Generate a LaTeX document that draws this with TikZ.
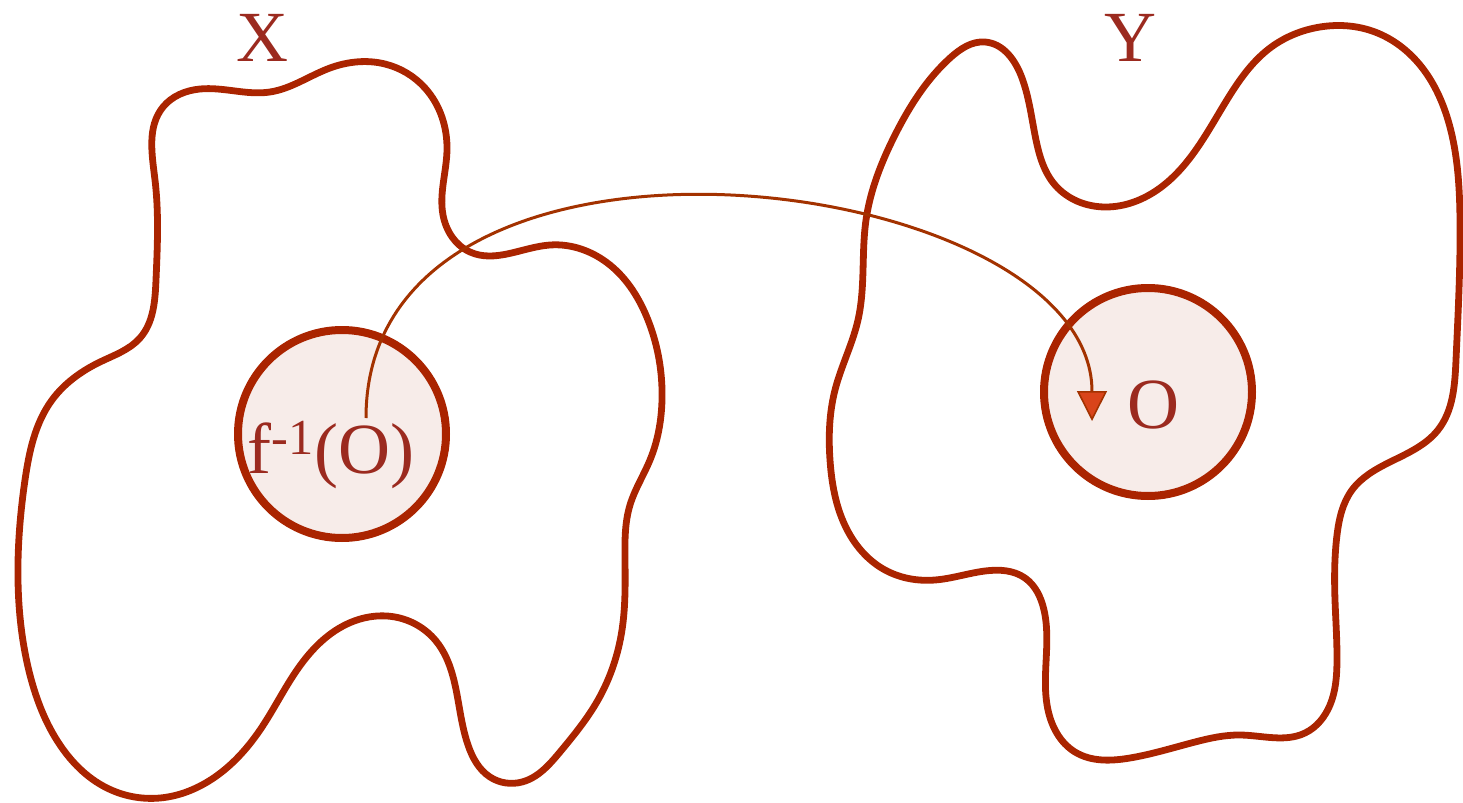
\documentclass[tikz,border=0pt]{standalone}
\usepackage{fontspec}
\setmainfont{Liberation Serif}
\usetikzlibrary{arrows.meta,hobby}
\definecolor{blobred}{HTML}{AA2400}
\definecolor{txtred}{HTML}{9B2A1F}
\definecolor{discfill}{HTML}{F7ECE9}
\definecolor{arrline}{HTML}{A33200}
\definecolor{arrfill}{HTML}{D9441A}
\begin{document}
\begin{tikzpicture}[x=0.5pt,y=-0.5pt,
  blob/.style={draw=blobred, line width=3.4pt, line join=round},
  disc/.style={circle, draw=blobred, fill=discfill, line width=4pt, minimum size=104pt, inner sep=0pt},
  lbl/.style={text=txtred, font=\fontsize{36}{42}\selectfont, inner sep=0pt},
  conn/.style={draw=arrline, line width=1.5pt, -{Triangle[width=15pt,length=15pt,fill=arrfill,line width=0.8pt]}}]
\useasboundingbox (0,0) rectangle (1463,803);
% blob X
\draw[blob] plot[closed hobby] coordinates {
 (155,180) (163,107) (200,89) (270,92) (330,68) (385,64) (425,88) (447,150) (443,215) (470,252) (550,245) (610,265) (648,320) (662,400) (650,460) (630,505) (625,560) (622,630) (598,700) (560,752) (522,782) (490,777) (468,745) (458,700) (436,641) (395,617) (345,625) (302,663) (260,730) (215,777) (160,798) (105,787) (60,745) (30,675) (18,580) (25,480) (52,400) (100,362) (140,338) (156,280)};
% blob Y
\draw[blob] plot[closed hobby] coordinates {
 (985,42) (1022,78) (1036,140) (1055,185) (1105,207) (1160,188) (1230,95) (1270,48) (1320,27) (1375,32) (1420,65) (1448,120) (1460,220) (1456,360) (1438,430) (1390,462) (1352,490) (1337,535) (1335,600) (1337,660) (1330,705) (1305,733) (1240,735) (1195,742) (1130,758) (1075,752) (1048,710) (1044,610) (1025,578) (985,571) (935,580) (885,570) (850,535) (830,460) (835,390) (858,320) (866,220) (895,135) (950,58)};
% discs
\node[disc] (pre) at (342,434) {};
\node[disc] (img) at (1148,392) {};
% labels
\node[lbl] (xlab) at (262,38) {X};
\node[lbl] (ylab) at (1130,38) {Y};
\node[lbl] (prelab) at (331,455) {f\textsuperscript{-1}(O)};
\node[lbl] (imglab) at (1153,405) {O};
% connector
\coordinate (src) at (366,418);
\coordinate (dst) at (1092,421);
\draw[conn] (src) .. controls (366,80) and (1092,170) .. (dst);
\end{tikzpicture}
\end{document}
